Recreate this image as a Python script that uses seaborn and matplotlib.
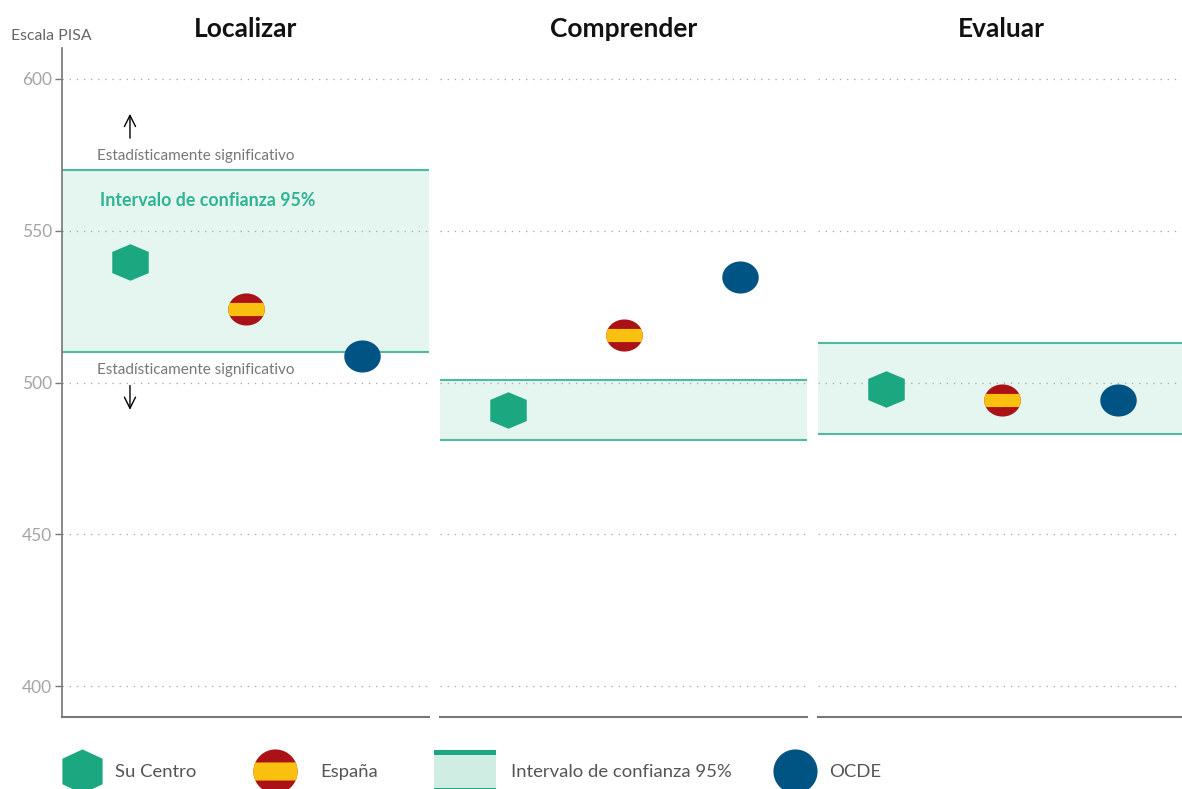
import numpy as np
import pandas as pd
import matplotlib
matplotlib.use("Agg")
import matplotlib.pyplot as plt
import seaborn as sns
from matplotlib.path import Path
from matplotlib.patches import Rectangle

# values
competencias = ["Localizar", "Comprender", "Evaluar"]
grupos = ["Su Centro", "España", "OCDE"]
su_centro = [539.7, 491.0, 497.9]
espana = [524.2, 515.6, 494.2]
ocde = [508.7, 534.8, 494.2]
ic_inferior = [510.0, 481.0, 483.0]
ic_superior = [570.0, 500.8, 513.0]
ticks_pisa = [400, 450, 500, 550, 600]
etiqueta_sig = "Estadísticamente significativo"
etiqueta_ic = "Intervalo de confianza 95%"

VERDE = "#1BA77F"
AZUL = "#005483"
ROJO = "#AB1218"
AMARILLO = "#FAC00F"
LINEA_IC = "#4DBB9F"
FONDO_IC = "#E5F5EF"
GRIS = "#777777"

W, H = 1182, 789

sns.set_theme(style="white")
plt.rcParams["font.family"] = ["Lato", "DejaVu Sans"]

df = pd.DataFrame({
    "competencia": np.repeat(competencias, 3),
    "grupo": grupos * 3,
    "puntos": np.column_stack([su_centro, espana, ocde]).ravel(),
})


# marker shapes
def hexagono(ancho):
    return Path([(0, 1), (ancho, 0.58), (ancho, -0.58), (0, -1), (-ancho, -0.58), (-ancho, 0.58), (0, 1)],
                closed=True)


def ovalo(ratio):
    t = np.linspace(0, 2 * np.pi, 60)
    return Path(np.column_stack([np.cos(t), ratio * np.sin(t)]), closed=True)


def franja(ratio, alto):
    a = np.arcsin(alto / ratio)
    t1 = np.linspace(-a, a, 12)
    t2 = np.linspace(np.pi - a, np.pi + a, 12)
    t = np.concatenate([t1, t2, t1[:1]])
    return Path(np.column_stack([np.cos(t), ratio * np.sin(t)]), closed=True)


def marca(ax, datos, marker, color, s):
    sns.scatterplot(data=datos, x="grupo", y="puntos", marker=marker, color=color,
                    s=s, linewidth=0, ax=ax, legend=False, zorder=5, clip_on=False)


fig = plt.figure(figsize=(W / 100, H / 100), dpi=100)
paneles = [(62, 429), (440, 807), (818, 1185)]
y_top, y_bottom = 48, 717
axes = []

for i, comp in enumerate(competencias):
    x0, x1 = paneles[i]
    ax = fig.add_axes([x0 / W, 1 - y_bottom / H, (x1 - x0) / W, (y_bottom - y_top) / H])
    ax.patch.set_alpha(0)
    datos = df[df["competencia"] == comp]
    ax.axhspan(ic_inferior[i], ic_superior[i], color=FONDO_IC, lw=0, zorder=0.1)
    ax.axhline(ic_inferior[i], color=LINEA_IC, lw=1.5, zorder=2)
    ax.axhline(ic_superior[i], color=LINEA_IC, lw=1.5, zorder=2)
    marca(ax, datos[datos["grupo"] == "Su Centro"], hexagono(1.0), VERDE, 690)
    marca(ax, datos[datos["grupo"] == "España"], ovalo(0.88), ROJO, 690)
    marca(ax, datos[datos["grupo"] == "España"], franja(0.88, 0.36), AMARILLO, 690)
    marca(ax, datos[datos["grupo"] == "OCDE"], ovalo(0.88), AZUL, 690)
    ax.set_xlim(-0.586, 2.578)
    ax.set_ylim(389.8, 610.2)
    ax.set_xlabel("")
    ax.set_ylabel("")
    ax.set_xticks([])
    ax.set_yticks(ticks_pisa)
    ax.set_axisbelow(True)
    ax.grid(False)
    ax.yaxis.grid(True, color="#AAAAAA", lw=0.9, linestyle=(0, (1.1, 4.6)))
    for lado in ["top", "right"]:
        ax.spines[lado].set_visible(False)
    ax.spines["bottom"].set_color(GRIS)
    ax.spines["bottom"].set_linewidth(1.5)
    if i == 0:
        ax.spines["left"].set_color(GRIS)
        ax.spines["left"].set_linewidth(1.2)
        ax.tick_params(axis="y", left=True, length=5, width=1, color=GRIS, pad=2,
                       labelsize=12.5, labelcolor="#A5A5A5")
    else:
        ax.spines["left"].set_visible(False)
        ax.tick_params(axis="y", left=False, labelleft=False)
    # titles sit on the shared 367 px panel centre
    fig.text((x0 + x0 + 367) / 2 / W, 1 - 29 / H, comp, ha="center", va="center",
             fontsize=19, fontweight="bold", color="#111111")
    axes.append(ax)

fig.text(11 / W, 1 - 36 / H, "Escala PISA", ha="left", va="center", fontsize=11.4,
         color="#666666")

# notes on the first panel
ax0 = axes[0]
nota = dict(ha="left", va="center", fontsize=11, color="#777777")
ax0.text(-0.285, 574.5, etiqueta_sig, **nota)
ax0.text(-0.285, 504.1, etiqueta_sig, **nota)
ax0.text(-0.26, 559.8, etiqueta_ic, ha="left", va="center", fontsize=12.8,
         fontweight="bold", color="#2DB592")
flecha = dict(arrowstyle="->", color="black", lw=1, mutation_scale=20, shrinkA=0, shrinkB=0)
ax0.annotate("", xy=(0, 588.5), xytext=(0, 580.5), arrowprops=flecha)
ax0.annotate("", xy=(0, 491), xytext=(0, 499), arrowprops=flecha)

# legend row, laid out in pixels and cut by the bottom edge like the original
capa = fig.add_axes([0, 0, 1, 1])
capa.set_xlim(0, W)
capa.set_ylim(H, 0)
capa.axis("off")
capa.patch.set_alpha(0)
y_ley = 771
capa.scatter([82], [y_ley], marker=hexagono(0.91), s=1010, color=VERDE, linewidth=0)
capa.scatter([275], [y_ley], marker=ovalo(1.0), s=1010, color=ROJO, linewidth=0)
capa.scatter([275], [y_ley], marker=franja(1.0, 0.41), s=1010, color=AMARILLO, linewidth=0)
capa.scatter([795], [y_ley], marker=ovalo(1.0), s=1010, color=AZUL, linewidth=0)
capa.add_patch(Rectangle((434, 750), 62, 39, facecolor="#D0EDE4", edgecolor="none"))
capa.add_patch(Rectangle((434, 750), 62, 5, facecolor=VERDE, edgecolor="none"))
capa.add_patch(Rectangle((434, 788), 62, 1, facecolor=VERDE, edgecolor="none"))
ley = dict(ha="left", va="center", fontsize=13.3, color="#555555")
capa.text(115, y_ley + 1, grupos[0], **ley)
capa.text(320, y_ley + 1, grupos[1], **ley)
capa.text(511, y_ley + 1, etiqueta_ic, **ley)
capa.text(829, y_ley + 1, grupos[2], **ley)

fig.savefig("out.png", dpi=100, facecolor="white")
